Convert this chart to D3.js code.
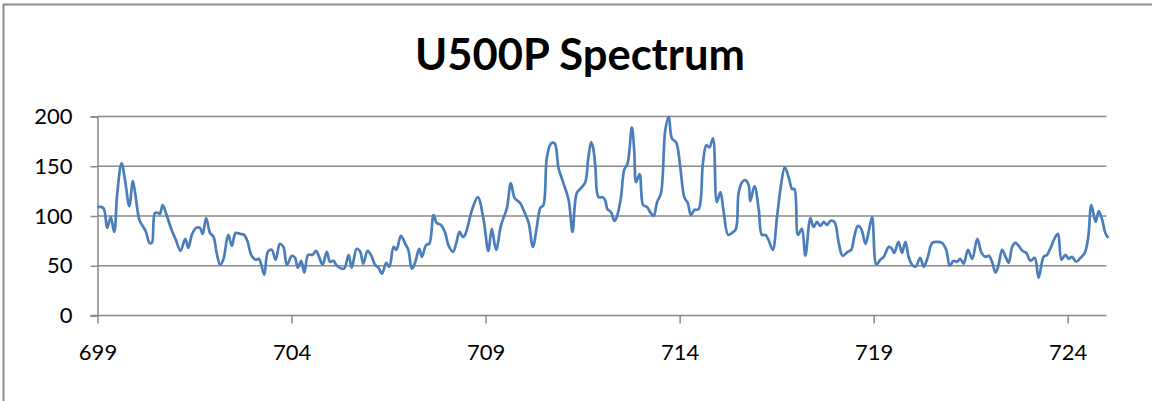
<!DOCTYPE html>
<html>
<head>
<meta charset="utf-8">
<script src="https://cdn.jsdelivr.net/npm/d3@7"></script>
<style>
  html, body { margin: 0; padding: 0; background: #fff; }
  svg { display: block; }
  text { font-family: Lato, "Open Sans", sans-serif; fill: #000; }
</style>
</head>
<body>
<svg id="chart" width="1152" height="401"></svg>
<script>
const chartTitle = "U500P Spectrum";
const xTicks = [699, 704, 709, 714, 719, 724];
const yTicks = [0, 50, 100, 150, 200];

const wavelength = [
  699.00, 699.15, 699.25, 699.34, 699.43, 699.51, 699.62, 699.71, 699.82, 699.91,
  699.97, 700.08, 700.18, 700.25, 700.34, 700.40, 700.48, 700.57, 700.61, 700.68,
  700.78, 700.91, 701.02, 701.14, 701.26, 701.34, 701.43, 701.54, 701.64, 701.71,
  701.80, 701.90, 701.99, 702.07, 702.16, 702.24, 702.37, 702.46, 702.56, 702.67,
  702.78, 702.87, 702.96, 703.08, 703.16, 703.22, 703.30, 703.39, 703.49, 703.59,
  703.70, 703.79, 703.88, 704.01, 704.09, 704.16, 704.25, 704.33, 704.43, 704.54,
  704.63, 704.71, 704.80, 704.91, 704.99, 705.08, 705.17, 705.35, 705.47, 705.55,
  705.68, 705.77, 705.85, 705.96, 706.07, 706.15, 706.24, 706.33, 706.44, 706.52,
  706.63, 706.70, 706.82, 706.93, 707.01, 707.10, 707.19, 707.29, 707.36, 707.47,
  707.55, 707.66, 707.74, 707.85, 707.96, 708.04, 708.16, 708.24, 708.33, 708.41,
  708.47, 708.65, 708.80, 708.95, 709.07, 709.16, 709.27, 709.40, 709.55, 709.65,
  709.75, 709.89, 710.00, 710.11, 710.22, 710.32, 710.41, 710.49, 710.58, 710.69,
  710.78, 710.88, 710.98, 711.14, 711.24, 711.35, 711.48, 711.57, 711.65, 711.72,
  711.77, 711.83, 711.91, 712.02, 712.08, 712.14, 712.23, 712.32, 712.38, 712.49,
  712.57, 712.66, 712.77, 712.83, 712.88, 712.97, 713.06, 713.16, 713.24, 713.33,
  713.42, 713.52, 713.63, 713.72, 713.80, 713.91, 714.02, 714.12, 714.21, 714.29,
  714.38, 714.49, 714.60, 714.69, 714.77, 714.86, 714.96, 715.05, 715.13, 715.25,
  715.35, 715.45, 715.52, 715.61, 715.69, 715.78, 715.82, 715.93, 716.04, 716.12,
  716.21, 716.28, 716.40, 716.51, 716.62, 716.71, 716.81, 716.90, 716.96, 717.05,
  717.15, 717.24, 717.37, 717.45, 717.54, 717.63, 717.71, 717.80, 717.88, 717.99,
  718.10, 718.20, 718.33, 718.42, 718.50, 718.59, 718.68, 718.79, 718.87, 718.96,
  719.07, 719.17, 719.26, 719.39, 719.47, 719.53, 719.64, 719.73, 719.82, 719.90,
  719.99, 720.08, 720.20, 720.29, 720.39, 720.51, 720.63, 720.76, 720.87, 720.96,
  721.06, 721.15, 721.23, 721.32, 721.43, 721.54, 721.67, 721.78, 721.88, 721.97,
  722.05, 722.14, 722.22, 722.31, 722.40, 722.48, 722.57, 722.65, 722.74, 722.83,
  722.93, 723.04, 723.15, 723.25, 723.38, 723.47, 723.56, 723.67, 723.75, 723.84,
  723.94, 724.03, 724.11, 724.22, 724.33, 724.44, 724.53, 724.61, 724.72, 724.80,
  724.89, 724.97, 725.05
];

const intensity = [
  109, 108, 88, 99, 84, 123, 153, 136, 110, 135,
  123, 96, 89, 84, 73, 73, 103, 103, 102, 111,
  101, 86, 76, 65, 77, 68, 81, 88, 88, 82,
  98, 83, 79, 63, 51, 56, 81, 70, 83, 82,
  81, 74, 61, 56, 57, 51, 41, 64, 66, 56,
  72, 69, 51, 60, 58, 48, 55, 43, 61, 61,
  65, 59, 51, 64, 54, 55, 50, 47, 61, 48,
  67, 64, 52, 65, 59, 51, 48, 42, 53, 49,
  69, 66, 80, 72, 66, 47, 54, 67, 59, 71,
  72, 101, 93, 91, 83, 71, 64, 72, 84, 79,
  81, 106, 119, 96, 65, 87, 66, 91, 108, 133,
  118, 113, 104, 93, 69, 89, 108, 111, 159, 173,
  173, 148, 136, 116, 84, 123, 129, 134, 159, 174,
  169, 149, 119, 119, 116, 107, 104, 95, 99, 119,
  146, 153, 189, 166, 134, 142, 111, 109, 104, 100,
  114, 123, 186, 200, 178, 174, 148, 119, 113, 101,
  106, 107, 153, 171, 169, 178, 114, 124, 106, 81,
  83, 87, 123, 134, 136, 131, 115, 130, 106, 81,
  81, 77, 66, 99, 133, 149, 139, 127, 127, 81,
  87, 60, 98, 89, 94, 90, 94, 91, 95, 94,
  73, 60, 64, 66, 79, 90, 87, 72, 84, 99,
  51, 56, 59, 69, 67, 63, 74, 63, 74, 59,
  51, 49, 58, 49, 58, 73, 74, 73, 66, 50,
  55, 54, 57, 52, 66, 57, 77, 63, 59, 60,
  54, 43, 51, 66, 59, 53, 69, 73, 70, 65,
  63, 55, 58, 38, 59, 61, 68, 78, 82, 56,
  61, 57, 59, 54, 58, 63, 79, 111, 94, 105,
  96, 83, 78
];

const W = 1152, H = 401;
const margin = { left: 97.5, right: W - 1106.5, top: 116.5, bottom: H - 315.5 };
const gridColor = "#898989";
const lineColor = "#4a7ebb";

const svg = d3.select("#chart");

// outer chart-area border (only top and left edges visible)
svg.append("path")
  .attr("d", `M3.5,${H} L3.5,4.5 L${W},4.5`)
  .attr("fill", "none")
  .attr("stroke", "#8c8c8c")
  .attr("stroke-width", 2);

const x = d3.scaleLinear().domain([699, 725]).range([margin.left, W - margin.right]);
const y = d3.scaleLinear().domain([0, 200]).range([H - margin.bottom, margin.top]);

// gridlines
svg.append("g")
  .selectAll("line")
  .data(yTicks.filter(d => d > 0))
  .join("line")
  .attr("x1", x.range()[0]).attr("x2", x.range()[1])
  .attr("y1", d => y(d)).attr("y2", d => y(d))
  .attr("stroke", gridColor).attr("stroke-width", 1.5);

// y axis
const yAxis = svg.append("g")
  .attr("transform", `translate(${x.range()[0]},0)`)
  .call(d3.axisLeft(y).tickValues(yTicks).tickSize(7).tickPadding(18).tickFormat(d3.format("d")));
yAxis.select(".domain").attr("stroke", gridColor).attr("stroke-width", 1.5);
yAxis.selectAll(".tick line").attr("stroke", gridColor).attr("stroke-width", 1.5);
yAxis.selectAll(".tick text").attr("font-size", 22).attr("font-family", "Lato, sans-serif").attr("fill", "#000");

// x axis
const xAxis = svg.append("g")
  .attr("transform", `translate(0,${y(0)})`)
  .call(d3.axisBottom(x).tickValues(xTicks).tickSize(8).tickPadding(21).tickFormat(d3.format("d")));
xAxis.select(".domain").attr("stroke", gridColor).attr("stroke-width", 1.5)
  .attr("d", `M${x.range()[0] - 7},0H${x.range()[1]}`);
xAxis.selectAll(".tick line").attr("stroke", gridColor).attr("stroke-width", 1.5);
xAxis.selectAll(".tick text").attr("font-size", 22).attr("font-family", "Lato, sans-serif").attr("fill", "#000");

// data line
const pts = wavelength.map((w, i) => [w, intensity[i]]);
const line = d3.line()
  .x(d => x(d[0]))
  .y(d => y(d[1]))
  .curve(d3.curveCatmullRom.alpha(0.5));
svg.append("path")
  .datum(pts)
  .attr("d", line)
  .attr("fill", "none")
  .attr("stroke", lineColor)
  .attr("stroke-width", 2.7)
  .attr("stroke-linejoin", "round");

// title
const t = svg.append("text")
  .attr("x", 580)
  .attr("y", 70)
  .attr("text-anchor", "middle")
  .attr("font-weight", "bold")
  .attr("font-size", 38)
  .text(chartTitle);
const len = t.node().getComputedTextLength();
t.attr("font-size", 38 * 330 / len);
</script>
</body>
</html>
